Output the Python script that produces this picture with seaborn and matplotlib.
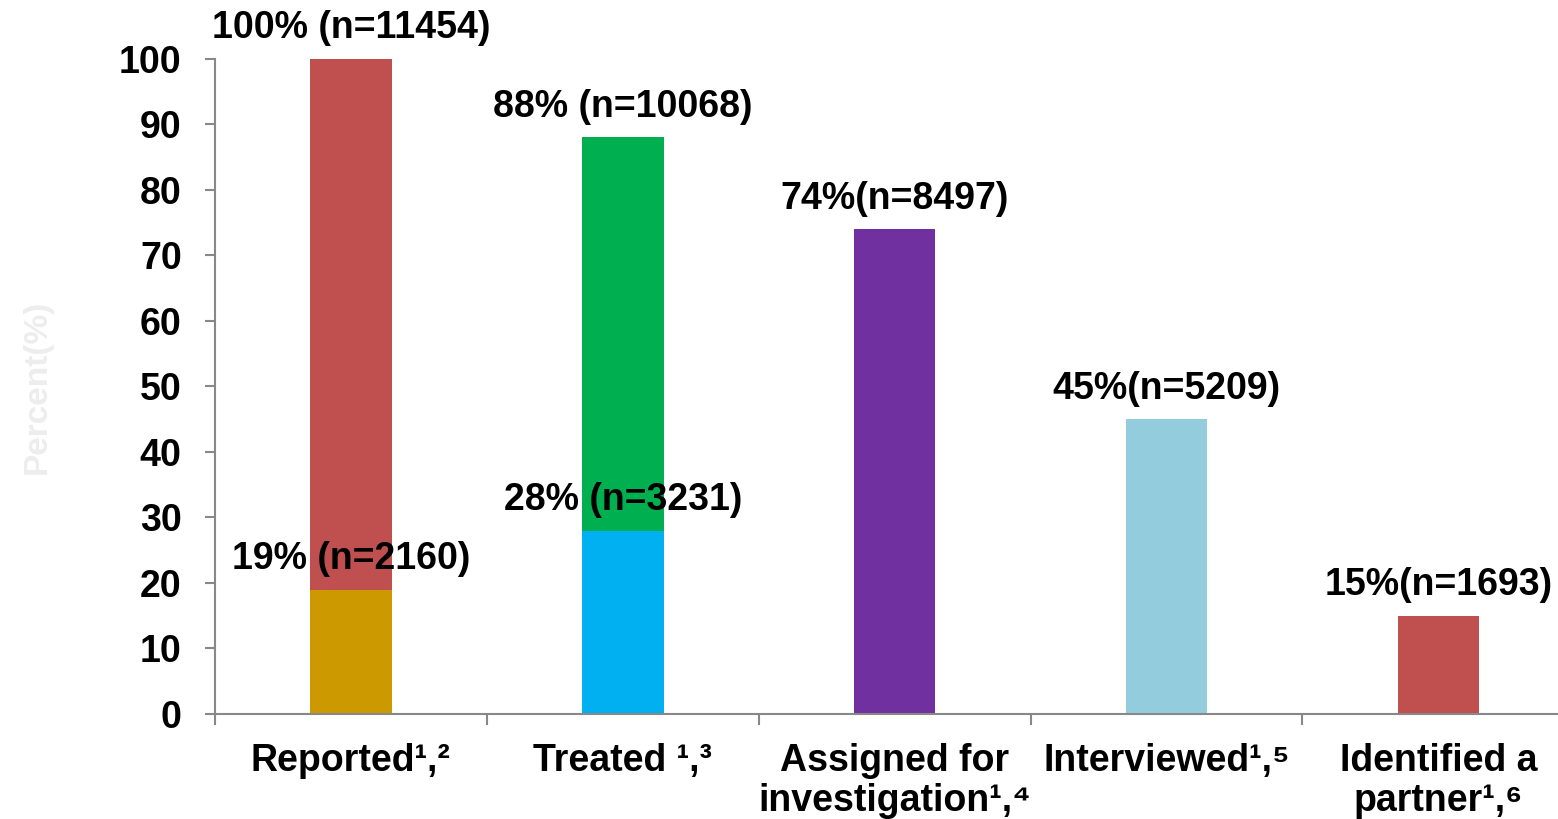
import numpy as np
import pandas as pd
import matplotlib
matplotlib.use('Agg')
import matplotlib.pyplot as plt
import seaborn as sns
from matplotlib.ticker import FixedLocator

# data
categories = ['Reported¹,²', 'Treated ¹,³', 'Assigned for\ninvestigation¹,⁴',
              'Interviewed¹,⁵', 'Identified a\npartner¹,⁶']
percent = [100, 88, 74, 45, 15]
labels = ['100% (n=11454)', '88% (n=10068)', '74%(n=8497)', '45%(n=5209)', '15%(n=1693)']
bar_colors = ['#C0504F', '#00B050', '#7030A0', '#93CDDD', '#C0504F']

# inner (overlaid) bars
sub_categories = ['Reported¹,²', 'Treated ¹,³']
sub_percent = [19, 28]
sub_labels = ['19% (n=2160)', '28% (n=3231)']
sub_colors = ['#CC9900', '#00B0F0']

sns.set_style('white')
plt.rcParams['font.family'] = ['Liberation Sans', 'DejaVu Sans']
plt.rcParams['font.weight'] = 'bold'
plt.rcParams['text.color'] = 'black'
plt.rcParams['xtick.color'] = 'black'
plt.rcParams['ytick.color'] = 'black'

df = pd.DataFrame({'stage': categories, 'pct': percent})
sub = pd.DataFrame({'stage': sub_categories, 'pct': sub_percent})

fig = plt.figure(figsize=(15.58, 8.19), dpi=100)
ax = fig.add_axes([0.138, 0.1282, 0.862, 0.8])

sns.barplot(data=df, x='stage', y='pct', hue='stage', order=categories,
            palette=dict(zip(categories, bar_colors)), width=0.3,
            legend=False, ax=ax, saturation=1, linewidth=0)
sns.barplot(data=sub, x='stage', y='pct', hue='stage', order=categories,
            palette=dict(zip(sub_categories, sub_colors)), width=0.3,
            legend=False, ax=ax, saturation=1, linewidth=0)

for i, (v, t) in enumerate(zip(percent, labels)):
    ax.annotate(t, (i, v), xytext=(0, 9), textcoords='offset points',
                ha='center', va='bottom', fontsize=27, fontweight='bold', color='black')
for i, (v, t) in enumerate(zip(sub_percent, sub_labels)):
    ax.annotate(t, (i, v), xytext=(0, 9), textcoords='offset points',
                ha='center', va='bottom', fontsize=27, fontweight='bold', color='black')

ax.set_ylim(0, 100)
ax.set_xlim(-0.5, 4.44)
ax.set_yticks(range(0, 101, 10))
ax.set_yticklabels([str(v) for v in range(0, 101, 10)], fontsize=27, fontweight='bold')
ax.tick_params(axis='y', left=True, length=7, width=1.5, color='#888888',
               labelcolor='black', pad=17)
ax.tick_params(axis='x', which='major', bottom=False, length=0, pad=21,
               labelcolor='black')
ax.xaxis.set_minor_locator(FixedLocator([-0.5, 0.5, 1.5, 2.5, 3.5]))
ax.tick_params(axis='x', which='minor', bottom=True, length=8, width=1.5,
               color='#888888', direction='out')
ax.set_xticks(range(len(categories)))
ax.set_xticklabels(categories, fontsize=27, fontweight='bold', linespacing=1.12,
                   va='top')
ax.set_xlabel('')
ax.set_ylabel('Percent(%)', fontsize=24, color='#EDEDED', fontweight='bold', labelpad=48)

sns.despine(ax=ax, top=True, right=True)
for s in ['left', 'bottom']:
    ax.spines[s].set_color('#888888')
    ax.spines[s].set_linewidth(1.5)

fig.savefig('out.png', dpi=100)
